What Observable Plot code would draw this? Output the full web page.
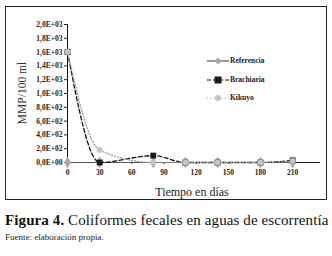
<!DOCTYPE html>
<html><head><meta charset="utf-8">
<script src="https://cdn.jsdelivr.net/npm/d3@7"></script>
<script src="https://cdn.jsdelivr.net/npm/@observablehq/plot@0.6"></script>
<style>
body{margin:0;background:#fff;width:332px;height:256px;overflow:hidden;font-family:'Liberation Serif','DejaVu Serif',serif;color:#111;position:relative;}
#box{position:absolute;left:5px;top:6px;width:320px;height:192px;border:1.5px solid #222;}
#chart{position:absolute;left:0;top:0;}
.ytitle{position:absolute;left:22px;top:93px;transform:translate(-50%,-50%) rotate(-90deg);font-family:'Liberation Serif',serif;font-size:11.5px;white-space:nowrap;color:#333;}
.xtitle{position:absolute;left:192px;top:192px;transform:translate(-50%,-50%);font-family:'Liberation Serif',serif;font-size:12px;white-space:nowrap;color:#222;}
#legend{position:absolute;left:207px;top:57px;font-family:'Liberation Serif',serif;font-size:7.5px;font-weight:bold;color:#222;}
#legend div{height:18.5px;display:flex;align-items:flex-start;}
#legend span{line-height:8px;}
#legend svg{margin-right:1px;}
#cap{position:absolute;left:5px;top:212px;font-family:'Liberation Serif',serif;font-size:15px;white-space:nowrap;color:#111;letter-spacing:0.1px;}
#src{position:absolute;left:5px;top:232px;font-family:'Liberation Serif',serif;font-size:9px;white-space:nowrap;color:#222;}
</style></head><body>
<div id="chart"></div>
<div id="box"></div>
<div class="ytitle">MMP/100 ml</div>
<div class="xtitle">Tiempo en días</div>
<div id="legend"></div>
<div id="cap"><b>Figura 4.</b> Coliformes fecales en aguas de escorrentía</div>
<div id="src">Fuente: elaboración propia.</div>
<script>
const days = [0, 30, 80, 110, 140, 180, 210];
const referencia = [0, 0, 0, 0, 0, 0, 0];
const brachiaria = [1600, 0, 100, 0, 0, 0, 30];
const kikuyo = [1600, 180, 0, 0, 0, 0, 20];
const xTicks = [0, 30, 60, 90, 120, 150, 180, 210];
const yTicks = [0, 200, 400, 600, 800, 1000, 1200, 1400, 1600, 1800, 2000];
const seriesNames = ["Referencia", "Brachiaria", "Kikuyo"];

const rows = (vals) => days.map((d, i) => ({day: d, v: vals[i]}));
const ref = rows(referencia), bra = rows(brachiaria), kik = rows(kikuyo);

const fmt = n => {
  const [m, e] = n.toExponential(1).split("e");
  const sign = e[0] === "-" ? "-" : "+";
  const ex = e.replace(/[+-]/, "").padStart(2, "0");
  return m.replace(".", ",") + "E" + sign + ex;
};

const chart = Plot.plot({
  width: 332, height: 205,
  marginLeft: 67, marginRight: 12, marginTop: 24, marginBottom: 43,
  style: {fontFamily: "'Liberation Serif', serif", fontSize: "7.5px", fontWeight: "bold", background: "transparent", color: "#222"},
  x: {domain: [0, 236], ticks: xTicks, tickFormat: d => d, tickSize: 2, tickPadding: 5, label: null},
  y: {domain: [0, 2000], ticks: yTicks, tickFormat: fmt, tickSize: 3, tickPadding: 2, label: null},
  marks: [
    Plot.ruleX([0], {stroke: "#111", strokeWidth: 1}),
    Plot.ruleY([0], {stroke: "#111", strokeWidth: 1}),
    Plot.line(ref, {x: "day", y: "v", stroke: "#555", strokeWidth: 1, curve: "monotone-x"}),
    Plot.dot(ref, {x: "day", y: "v", symbol: "diamond", r: 3.6, fill: "#a8a8a8", stroke: "none"}),
    Plot.line(bra, {x: "day", y: "v", stroke: "#111", strokeWidth: 1.3, strokeDasharray: "4,2.5", curve: "monotone-x"}),
    Plot.dot(bra, {x: "day", y: "v", symbol: "square", r: 3.3, fill: "#1a1a1a", stroke: "none"}),
    Plot.line(kik, {x: "day", y: "v", stroke: "#999", strokeWidth: 1.3, strokeDasharray: "1,2", curve: "monotone-x"}),
    Plot.dot(kik, {x: "day", y: "v", symbol: "circle", r: 3, fill: "#c4c4c4", stroke: "none"})
  ]
});
document.getElementById("chart").appendChild(chart);

// legend
const leg = document.getElementById("legend");
const styles = [
  {stroke: "#555", dash: "", marker: '<path d="M11,0.5 L14.5,4 L11,7.5 L7.5,4Z" fill="#a8a8a8"/>'},
  {stroke: "#111", dash: "4,2", marker: '<rect x="7.5" y="0.5" width="7" height="7" fill="#1a1a1a"/>'},
  {stroke: "#999", dash: "1,2.5", marker: '<circle cx="11" cy="4" r="3" fill="#c4c4c4"/>'}
];
seriesNames.forEach((name, i) => {
  const s = styles[i];
  const row = document.createElement("div");
  row.innerHTML = `<svg width="22" height="8"><line x1="0" x2="22" y1="4" y2="4" stroke="${s.stroke}" stroke-width="1.2" ${s.dash ? `stroke-dasharray="${s.dash}"` : ""}/>${s.marker}</svg><span>${name}</span>`;
  leg.appendChild(row);
});
</script>
</body></html>
